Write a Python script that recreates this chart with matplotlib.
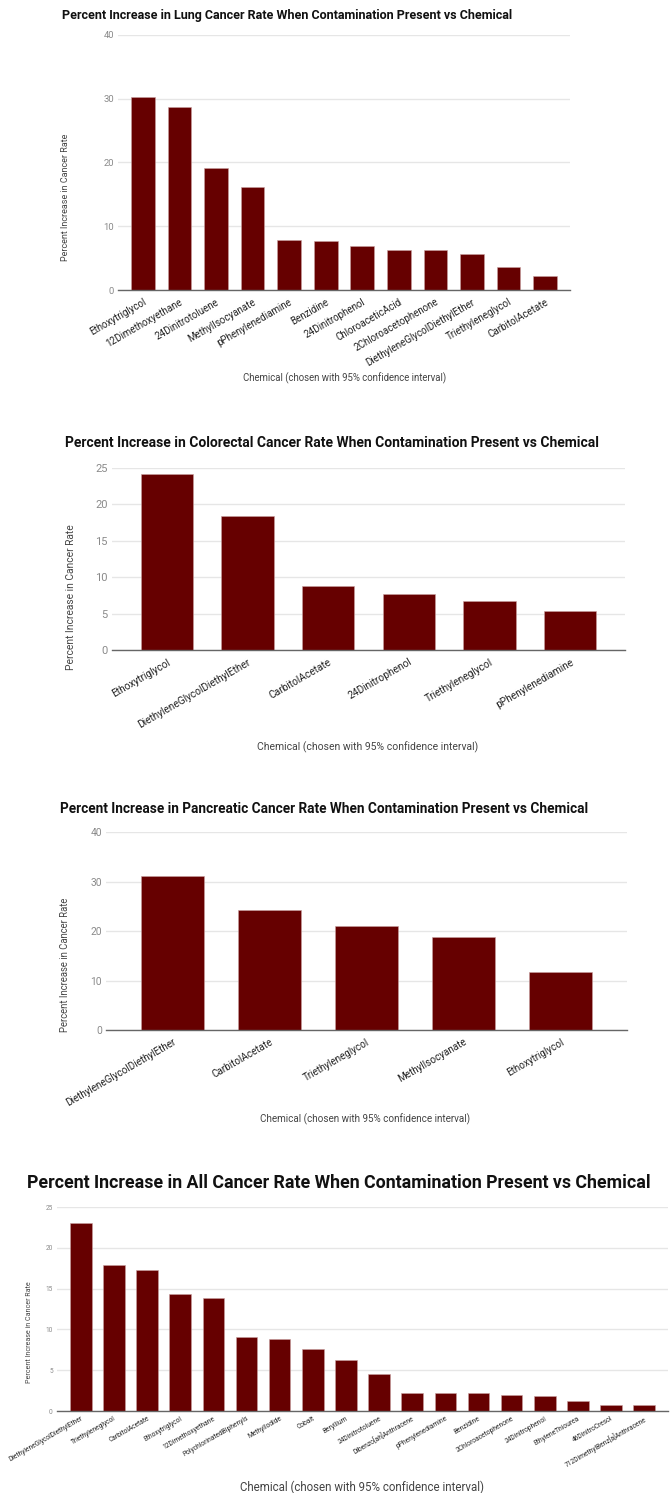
import matplotlib
matplotlib.use("Agg")
import matplotlib.pyplot as plt

# =========================
# Data
# =========================
lung_chems = ["Ethoxytriglycol", "12Dimethoxyethane", "24Dinitrotoluene", "MethylIsocyanate",
              "pPhenylenediamine", "Benzidine", "24Dinitrophenol", "ChloroaceticAcid",
              "2Chloroacetophenone", "DiethyleneGlycolDiethylEther", "Triethyleneglycol",
              "CarbitolAcetate"]
lung_vals = [30.2, 28.6, 19.1, 16.1, 7.8, 7.7, 6.9, 6.3, 6.2, 5.7, 3.6, 2.2]

colo_chems = ["Ethoxytriglycol", "DiethyleneGlycolDiethylEther", "CarbitolAcetate",
              "24Dinitrophenol", "Triethyleneglycol", "pPhenylenediamine"]
colo_vals = [24.2, 18.4, 8.8, 7.7, 6.7, 5.3]

panc_chems = ["DiethyleneGlycolDiethylEther", "CarbitolAcetate", "Triethyleneglycol",
              "MethylIsocyanate", "Ethoxytriglycol"]
panc_vals = [31.2, 24.2, 21.1, 18.8, 11.7]

all_chems = ["DiethyleneGlycolDiethylEther", "Triethyleneglycol", "CarbitolAcetate",
             "Ethoxytriglycol", "12Dimethoxyethane", "PolychlorinatedBiphenyls",
             "MethylIodide", "Cobalt", "Beryllium", "24Dinitrotoluene",
             "Dibenzo[ah]Anthracene", "pPhenylenediamine", "Benzidine",
             "2Chloroacetophenone", "24Dinitrophenol", "EthyleneThiourea",
             "46DinitroCresol", "712DimethylBenz[a]Anthracene"]
all_vals = [23.1, 17.95, 17.3, 14.3, 13.85, 9.1, 8.8, 7.6, 6.2, 4.5,
            2.25, 2.25, 2.15, 2.0, 1.8, 1.25, 0.75, 0.7]

XLABEL = "Chemical (chosen with 95% confidence interval)"
YLABEL = "Percent Increase in Cancer Rate"

BAR_COLOR = "#660000"
W, H = 670, 1493

plt.rcParams['font.family'] = ['Roboto', 'DejaVu Sans']

fig = plt.figure(figsize=(W / 100, H / 100), dpi=100)


def px_axes(left, top, right, bottom):
    return fig.add_axes([left / W, 1 - bottom / H, (right - left) / W, (bottom - top) / H])


def draw_chart(box, chems, vals, yticks, title, title_xy, title_size,
               tick_size, xtick_size, ylabel_xy, ylabel_size, xlabel_xy, xlabel_size,
               pad=0.68, xpad=4):
    ax = px_axes(*box)
    x = range(len(vals))
    ax.bar(x, vals, width=0.65, color=BAR_COLOR, edgecolor="#c9a0a0", linewidth=0.4, zorder=3)
    ax.set_xlim(-pad, len(vals) - 1 + pad)
    ax.set_ylim(0, yticks[-1])
    ax.set_yticks(yticks)
    ax.set_yticklabels([str(t) for t in yticks], fontsize=tick_size, color="#8a8a8a")
    ax.set_xticks(list(x))
    ax.set_xticklabels(chems, rotation=30, ha="right", rotation_mode="anchor",
                       fontsize=xtick_size, color="#222222")
    ax.tick_params(axis="y", length=0, pad=3)
    ax.tick_params(axis="x", length=0, pad=xpad)
    ax.grid(axis="y", color="#e6e6e6", linewidth=1, zorder=0)
    for s in ["top", "right", "left"]:
        ax.spines[s].set_visible(False)
    ax.spines["bottom"].set_color("#666666")
    ax.spines["bottom"].set_linewidth(1)
    ax.spines["bottom"].set_zorder(4)

    fig.text(title_xy[0] / W, 1 - title_xy[1] / H, title, fontsize=title_size,
             fontweight="bold", color="#111111", ha="left", va="center")
    fig.text(xlabel_xy[0] / W, 1 - xlabel_xy[1] / H, XLABEL, fontsize=xlabel_size,
             color="#444444", ha="center", va="center")
    fig.text(ylabel_xy[0] / W, 1 - ylabel_xy[1] / H, YLABEL, fontsize=ylabel_size,
             color="#444444", ha="center", va="center", rotation=90)
    return ax


# =========================
# Lung
# =========================
draw_chart((118, 34.7, 570, 290), lung_chems, lung_vals, [0, 10, 20, 30, 40],
           "Percent Increase in Lung Cancer Rate When Contamination Present vs Chemical",
           (62, 15), 9.0, 6.8, 7.0, (66, 197), 6.45, (345, 378), 6.9, xpad=5)

# =========================
# Colorectal
# =========================
draw_chart((112, 468, 625, 650), colo_chems, colo_vals, [0, 5, 10, 15, 20, 25],
           "Percent Increase in Colorectal Cancer Rate When Contamination Present vs Chemical",
           (65, 443), 10.0, 8.0, 7.3, (71, 597), 7.35, (368, 747), 7.45, xpad=5)

# =========================
# Pancreatic
# =========================
draw_chart((106, 832, 627, 1030), panc_chems, panc_vals, [0, 10, 20, 30, 40],
           "Percent Increase in Pancreatic Cancer Rate When Contamination Present vs Chemical",
           (60, 809), 9.8, 7.4, 7.1, (65, 965), 6.85, (365, 1119), 7.1, xpad=5)

# =========================
# All
# =========================
draw_chart((57, 1207, 668, 1411), all_chems, all_vals, [0, 5, 10, 15, 20, 25],
           "Percent Increase in All Cancer Rate When Contamination Present vs Chemical",
           (27, 1183), 12.8, 4.7, 4.8, (30, 1332), 5.1, (362, 1487), 8.3, pad=0.72, xpad=3)

fig.savefig("out.png", dpi=100)
